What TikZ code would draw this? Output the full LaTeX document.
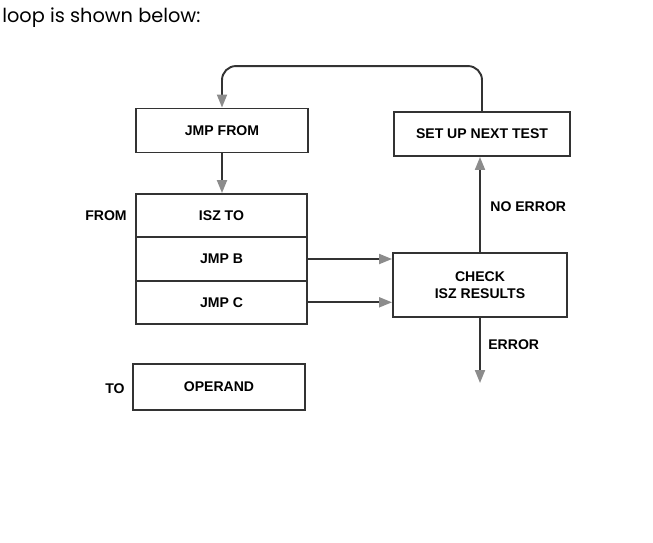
\documentclass[tikz,border=0pt]{standalone}
\usepackage{fontspec}
\setmainfont{Liberation Sans}
\newfontfamily\headfont{Poppins}
\usetikzlibrary{arrows.meta}

\begin{document}
\begin{tikzpicture}[x=0.02cm,y=-0.02cm,
  box/.style={draw=black!80,line width=1.1pt,inner sep=0pt,minimum width=3.44cm,minimum height=0.88cm,font=\fontsize{8}{9.6}\selectfont\bfseries,align=center},
  lbl/.style={inner sep=0pt,font=\fontsize{8}{9.6}\selectfont\bfseries},
  arr/.style={draw=black!80,line width=1.1pt,-{Triangle[length=0.26cm,width=0.2cm,color=black!45,fill=black!45]}}]
\useasboundingbox (0,0) rectangle (653,542);
\node[anchor=base west,inner sep=0pt,font=\headfont\fontsize{11}{13}\selectfont] (head) at (2,22) {loop is shown below:};
\node[box] (jmpfrom) at (222,130.5) {JMP FROM};
\node[box,minimum width=3.52cm] (setup) at (482,134) {SET UP NEXT TEST};
\node[box,minimum width=3.42cm,minimum height=0.867cm] (iszto) at (221.5,215.7) {ISZ TO};
\node[box,minimum width=3.42cm,minimum height=0.867cm] (jmpb) at (221.5,259) {JMP B};
\node[box,minimum width=3.42cm,minimum height=0.867cm] (jmpc) at (221.5,302.3) {JMP C};
\node[box,minimum width=3.48cm,minimum height=1.28cm] (check) at (480,285) {CHECK\\ISZ RESULTS};
\node[box,minimum height=0.92cm] (operand) at (219,387) {OPERAND};
\node[lbl] (from) at (106,216) {FROM};
\node[lbl] (to) at (115,389) {TO};
\node[lbl,anchor=west] (noerr) at (490,207) {NO ERROR};
\node[lbl,anchor=west] (err) at (488,345) {ERROR};
\coordinate (errend) at (480,383);
\draw[arr,rounded corners=8] (setup.north) -- ++(0,-45) -| (jmpfrom.north);
\draw[arr] (jmpfrom.south) -- (jmpfrom.south |- iszto.north);
\draw[arr] (jmpb.east) -- (jmpb.east -| check.west);
\draw[arr] (jmpc.east) -- (jmpc.east -| check.west);
\draw[arr] (check.north) -- (check.north |- setup.south);
\draw[arr] (check.south) -- (errend);
\end{tikzpicture}
\end{document}
